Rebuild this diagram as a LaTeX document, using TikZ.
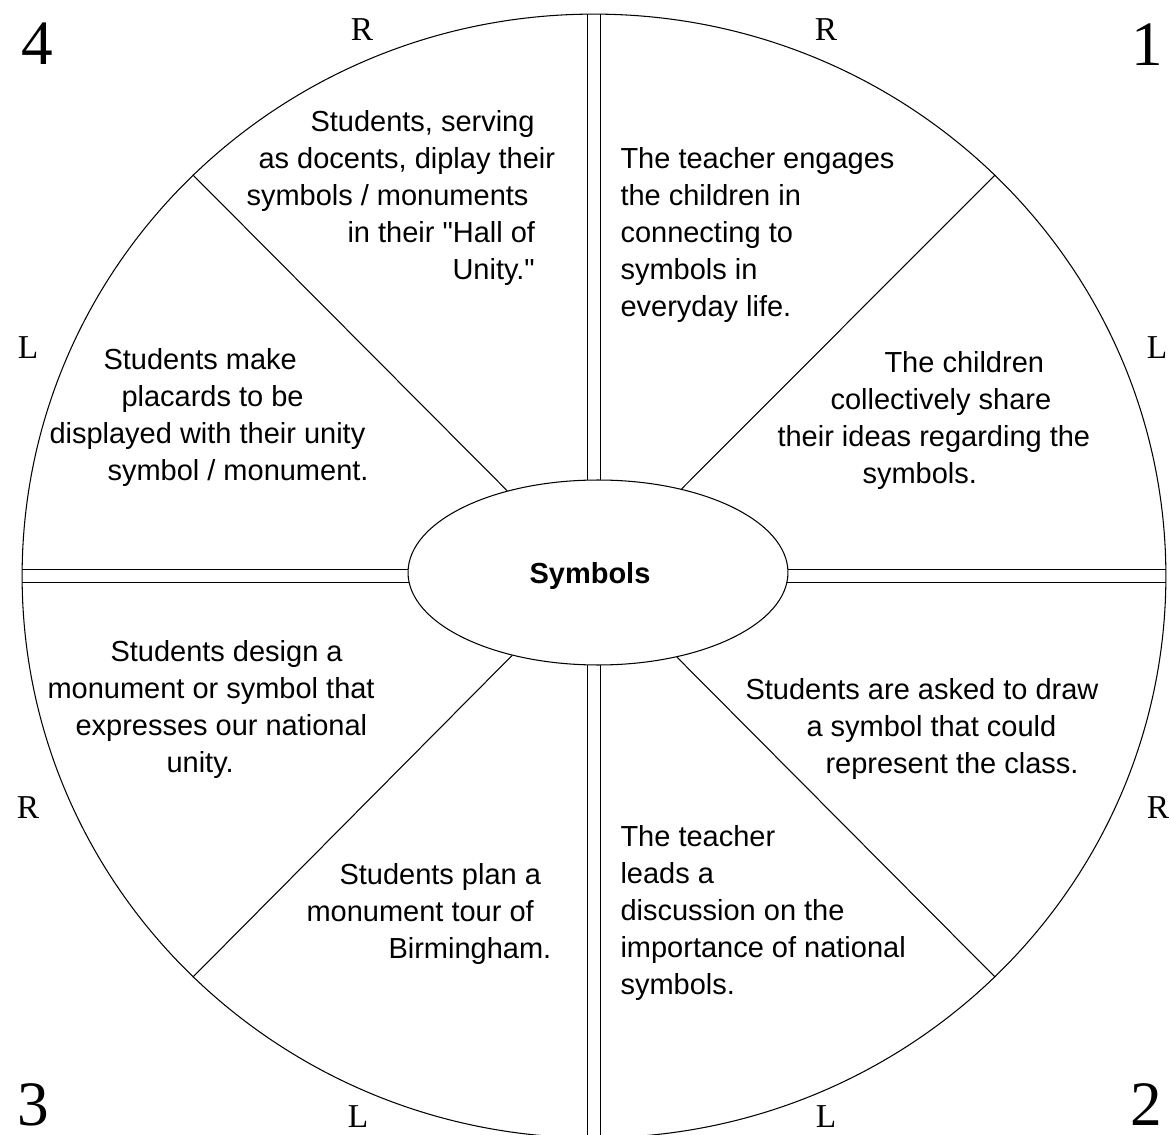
\documentclass[tikz,border=0pt]{standalone}
\usepackage{fontspec}
\newfontfamily\arialfont{Liberation Sans}
\newfontfamily\timesfont{Liberation Serif}
\usetikzlibrary{shapes.geometric,backgrounds}
\newdimen\px \px=0.02cm
\tikzset{
	wedgetext/.style={anchor=north west,align=left,inner sep=0pt,font=\arialfont\fontsize{16.5}{21}\selectfont},
	sidelabel/.style={inner sep=0pt,font=\timesfont\fontsize{19}{19}\selectfont},
	quadnum/.style={inner sep=0pt,font=\timesfont\fontsize{36}{36}\selectfont},
	spoke/.style={double,double distance=0.24cm}
}
\begin{document}
\begin{tikzpicture}[x=0.02cm,y=-0.02cm,line width=0.6pt]
		\useasboundingbox (0,0) rectangle (1171,1135);
		\node[ellipse,draw,minimum width=22.88cm,minimum height=22.48cm,inner sep=0pt] at (594,576)(wheel){};
		\node[ellipse,draw,fill=white,minimum width=7.6cm,minimum height=3.7cm,inner sep=0pt,text height=0.46cm,text depth=0pt,font=\arialfont\bfseries\fontsize{16.5}{20}\selectfont] at (598,572.5)(hub){Symbols\kern16\px};
	\begin{scope}[on background layer]
		\draw[spoke] (wheel.north) -- (wheel.south);
		\draw[spoke] (wheel.west) -- (wheel.east);
	\end{scope}
		\draw (hub.138) -- (wheel.135);
		\draw (hub.45) -- (wheel.45);
		\draw (hub.224) -- (wheel.225);
		\draw (hub.313) -- (wheel.315);

	% corner numbers and R / L marks
		\node[quadnum] at (37,44)(n4){4};
		\node[quadnum] at (1147,45)(n1){1};
		\node[quadnum] at (33,1105)(n3){3};
		\node[quadnum] at (1146,1105)(n2){2};
		\node[sidelabel] at (362,30)(r4){R};
		\node[sidelabel] at (826,30)(r1){R};
		\node[sidelabel] at (28,348)(l4){L};
		\node[sidelabel] at (1157,348)(l1){L};
		\node[sidelabel] at (28,808)(r3){R};
		\node[sidelabel] at (1158,808)(r2){R};
		\node[sidelabel] at (358,1117)(l3){L};
		\node[sidelabel] at (826,1117)(l2){L};

	% wedge texts
		\node[wedgetext] at (620,147)(t1){The teacher engages\\the children in\\connecting to\\symbols in\\everyday life.};
		\node[wedgetext] at (777,351)(t2){\hspace*{107\px}The children\\\hspace*{53\px}collectively share\\their ideas regarding the\\\hspace*{85\px}symbols.};
		\node[wedgetext] at (745,678)(t3){Students are asked to draw\\\hspace*{61\px}a symbol that could\\\hspace*{80\px}represent the class.};
		\node[wedgetext] at (620,825)(t4){The teacher\\leads a\\discussion on the\\importance of national\\symbols.};
		\node[wedgetext] at (306,863)(t5){\hspace*{33\px}Students plan a\\monument tour of\\\hspace*{82\px}Birmingham.};
		\node[wedgetext] at (47,640)(t6){\hspace*{63\px}Students design a\\monument or symbol that\\\hspace*{28\px}expresses our national\\\hspace*{119\px}unity.};
		\node[wedgetext] at (33,348)(t7){\hspace*{70\px}Students make\\\hspace*{88\px}placards to be\\\hspace*{16\px}displayed with their unity\\\hspace*{74\px}symbol / monument.};
		\node[wedgetext] at (246,110)(t8){\hspace*{64\px}Students, serving\\\hspace*{12\px}as docents, diplay their\\symbols / monuments\\\hspace*{101\px}in their "Hall of\\\hspace*{206\px}Unity."};
\end{tikzpicture}
\end{document}
